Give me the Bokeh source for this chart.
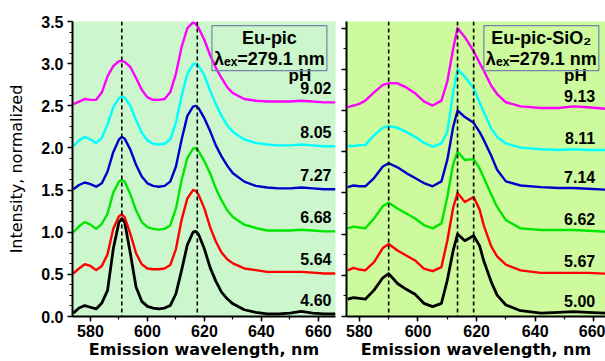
from bokeh.plotting import figure
from bokeh.layouts import row
from bokeh.models import (Span, Label, SingleIntervalTicker, PrintfTickFormatter,
                          Range1d, ColumnDataSource)
from bokeh.core.properties import value
from bokeh.embed import file_html
from bokeh.resources import INLINE

# ---------------- data: Eu-pic (left panel) ----------------
wl_left = [574, 576, 578, 580, 582, 584, 586, 588, 590, 591, 592, 594, 596, 598, 600,
           602, 604, 606, 608, 610, 612, 614, 616, 617, 618, 620, 622, 624, 626, 628,
           630, 634, 638, 642, 646, 650, 654, 658, 662, 666]
left_black = [0.04, 0.10, 0.13, 0.11, 0.09, 0.16, 0.31, 0.80, 1.12, 1.16, 1.12, 0.75, 0.35, 0.18, 0.12,
              0.10, 0.09, 0.10, 0.13, 0.27, 0.55, 0.85, 1.00, 1.01, 0.97, 0.80, 0.58, 0.42, 0.29, 0.21,
              0.15, 0.08, 0.05, 0.03, 0.03, 0.04, 0.06, 0.04, 0.03, 0.03]
left_red = [0.51, 0.57, 0.62, 0.60, 0.55, 0.60, 0.74, 1.04, 1.19, 1.21, 1.18, 0.98, 0.75, 0.62, 0.57,
            0.56, 0.56, 0.57, 0.61, 0.80, 1.15, 1.40, 1.50, 1.49, 1.44, 1.28, 1.06, 0.89, 0.76, 0.68,
            0.63, 0.57, 0.55, 0.53, 0.53, 0.53, 0.53, 0.52, 0.51, 0.51]
left_green = [1.00, 1.07, 1.12, 1.09, 1.04, 1.10, 1.22, 1.47, 1.60, 1.62, 1.60, 1.45, 1.26, 1.12, 1.06,
              1.04, 1.03, 1.04, 1.08, 1.28, 1.62, 1.88, 1.99, 2.00, 1.96, 1.84, 1.70, 1.52, 1.38, 1.26,
              1.18, 1.09, 1.05, 1.02, 1.02, 1.02, 1.03, 1.02, 1.01, 1.01]
left_blue = [1.51, 1.56, 1.59, 1.57, 1.54, 1.58, 1.72, 1.95, 2.10, 2.13, 2.11, 1.98, 1.80, 1.66, 1.58,
             1.55, 1.54, 1.55, 1.60, 1.78, 2.10, 2.38, 2.49, 2.50, 2.47, 2.35, 2.20, 2.03, 1.90, 1.79,
             1.70, 1.60, 1.55, 1.53, 1.52, 1.52, 1.53, 1.52, 1.51, 1.51]
left_cyan = [2.02, 2.09, 2.13, 2.10, 2.06, 2.12, 2.28, 2.48, 2.59, 2.61, 2.60, 2.50, 2.33, 2.18, 2.09,
             2.05, 2.04, 2.05, 2.10, 2.30, 2.62, 2.88, 2.99, 3.00, 2.97, 2.86, 2.68, 2.52, 2.38, 2.27,
             2.19, 2.10, 2.06, 2.04, 2.03, 2.03, 2.04, 2.03, 2.02, 2.02]
left_magenta = [2.52, 2.55, 2.58, 2.57, 2.57, 2.66, 2.85, 2.97, 3.03, 3.03, 3.02, 2.96, 2.83, 2.69, 2.60,
                2.57, 2.57, 2.58, 2.66, 2.88, 3.20, 3.42, 3.49, 3.47, 3.42, 3.28, 3.10, 2.95, 2.83, 2.72,
                2.65, 2.58, 2.56, 2.55, 2.55, 2.55, 2.56, 2.55, 2.54, 2.54]
ph_left = ["4.60", "5.64", "6.68", "7.27", "8.05", "9.02"]
peaks_left = [591, 617.5]

# ---------------- data: Eu-pic-SiO2 (right panel) ----------------
wl_right = [576, 578, 580, 582, 585, 588, 590, 593, 596, 599, 602, 605, 608, 610, 612, 613.5,
            616, 619, 621, 622.5, 625, 627, 630, 635, 642, 648, 653, 658, 664]
right_black = [0.21, 0.23, 0.22, 0.21, 0.32, 0.47, 0.52, 0.40, 0.33, 0.27, 0.16, 0.12, 0.16, 0.44, 0.80, 1.00,
               0.92, 0.98, 0.86, 0.67, 0.42, 0.26, 0.14, 0.07, 0.04, 0.05, 0.06, 0.05, 0.04]
right_red = [0.56, 0.59, 0.57, 0.56, 0.66, 0.83, 0.88, 0.80, 0.74, 0.68, 0.58, 0.55, 0.60, 0.92, 1.32, 1.50,
             1.39, 1.45, 1.30, 1.10, 0.85, 0.73, 0.63, 0.56, 0.53, 0.53, 0.53, 0.53, 0.52]
right_green = [1.07, 1.09, 1.08, 1.07, 1.19, 1.34, 1.38, 1.31, 1.25, 1.19, 1.11, 1.07, 1.13, 1.45, 1.85, 2.00,
               1.90, 1.91, 1.80, 1.68, 1.48, 1.33, 1.17, 1.07, 1.05, 1.05, 1.05, 1.04, 1.03]
right_blue = [1.57, 1.59, 1.58, 1.58, 1.68, 1.82, 1.86, 1.81, 1.74, 1.68, 1.62, 1.58, 1.64, 1.90, 2.30, 2.50,
              2.42, 2.35, 2.24, 2.14, 1.95, 1.78, 1.64, 1.59, 1.57, 1.56, 1.56, 1.55, 1.54]
right_cyan = [2.07, 2.07, 2.08, 2.08, 2.20, 2.29, 2.31, 2.29, 2.24, 2.18, 2.11, 2.06, 2.10, 2.24, 2.72, 3.00,
              2.91, 2.77, 2.60, 2.48, 2.28, 2.18, 2.10, 2.05, 2.03, 2.02, 2.03, 2.02, 2.02]
right_magenta = [2.54, 2.56, 2.58, 2.62, 2.72, 2.81, 2.83, 2.83, 2.78, 2.71, 2.61, 2.56, 2.62, 2.85, 3.25, 3.50,
                 3.39, 3.22, 3.08, 2.98, 2.80, 2.70, 2.60, 2.55, 2.53, 2.53, 2.55, 2.54, 2.52]
ph_right = ["5.00", "5.67", "6.62", "7.14", "8.11", "9.13"]
peaks_right = [590, 613.5, 619]

colors = ["#000000", "#ff0000", "#00e600", "#0000cc", "#00ffff", "#ff00ff"]
widths = [2.8, 2.4, 2.4, 2.4, 2.4, 2.4]

TICK_FONT = "Liberation Sans"
LABEL_FONT = "DejaVu Sans"
HEIGHT = 361


def style(p, show_ylabels, minor_y):
    p.outline_line_color = None
    p.grid.visible = False
    p.xaxis.ticker = SingleIntervalTicker(interval=20, num_minor_ticks=2)
    p.yaxis.ticker = SingleIntervalTicker(interval=0.5, num_minor_ticks=minor_y)
    for ax in (p.xaxis[0], p.yaxis[0]):
        ax.axis_line_width = 2
        ax.axis_line_color = "black"
        ax.major_tick_in = 0
        ax.major_tick_out = 5
        ax.minor_tick_in = 0
        ax.minor_tick_out = 3
        ax.major_tick_line_width = 1.5
        ax.minor_tick_line_width = 1.2
        ax.major_label_text_font = TICK_FONT
        ax.major_label_text_font_style = "bold"
        ax.major_label_text_font_size = "16px"
        ax.major_label_text_color = "black"
        ax.axis_label_text_color = "black"
    p.xaxis.major_label_standoff = 3
    p.xaxis.axis_label = "Emission wavelength, nm"
    p.xaxis.axis_label_text_font = LABEL_FONT
    p.xaxis.axis_label_text_font_style = "bold"
    p.xaxis.axis_label_text_font_size = "16px"
    p.xaxis.axis_label_standoff = 0
    if show_ylabels:
        p.yaxis.formatter = PrintfTickFormatter(format="%.1f")
        p.yaxis.major_label_standoff = 4
        p.yaxis.axis_label = "Intensity, normalized"
        p.yaxis.axis_label_text_font = LABEL_FONT
        p.yaxis.axis_label_text_font_style = "normal"
        p.yaxis.axis_label_text_font_size = "16px"
        p.yaxis.axis_label_standoff = 12
    else:
        p.yaxis.formatter = PrintfTickFormatter(format="")
        p.yaxis.major_label_standoff = 0


def panel(wl, series, ph, peaks, xr, yr, bg, width, border_left, border_right,
          show_ylabels, minor_y, label_dx, label_dy, box_text, box_x, box_y, ph_x, ph_y):
    p = figure(width=width, height=HEIGHT, x_range=Range1d(*xr), y_range=Range1d(*yr),
               output_backend="svg", toolbar_location=None,
               min_border_left=border_left, min_border_right=border_right,
               min_border_top=21, min_border_bottom=45)
    p.background_fill_color = bg
    p.border_fill_color = "white"
    style(p, show_ylabels, minor_y)
    for pk in peaks:
        p.add_layout(Span(location=pk, dimension="height", line_color="black",
                          line_dash="4 3", line_width=1.6))
    for vals, c, w in zip(series, colors, widths):
        p.line(wl, vals, line_color=c, line_width=w, line_join="round")
    src = ColumnDataSource(dict(
        x=[label_dx] * len(ph),
        y=[s[-1] + label_dy for s in series],
        t=ph))
    p.text("x", "y", text="t", source=src, text_align="right", text_baseline="middle",
           text_font=value(TICK_FONT), text_font_style="bold", text_font_size="16px",
           text_color="black")
    p.add_layout(Label(x=ph_x, y=ph_y, text="pH", text_align="center", text_baseline="middle",
                       text_font=TICK_FONT, text_font_style="bold", text_font_size="17px",
                       text_color="black"))
    p.add_layout(Label(x=box_x, y=box_y, text=box_text, text_align="center", text_baseline="top",
                       text_font=TICK_FONT, text_font_style="bold", text_font_size="18px",
                       text_color="black", text_line_height=1.05,
                       border_line_color="#7383ad", border_line_width=1.2,
                       background_fill_color=None, padding=2))
    return p


p1 = panel(wl_left, [left_black, left_red, left_green, left_blue, left_cyan, left_magenta],
           ph_left, peaks_left, (573.7, 666.0), (0.0, 3.5), "#ccf7cc", 340, 72, 5,
           True, 4, 664.6, 0.17, "Eu-pic\nλₑₓ=279.1 nm", 642.8, 3.45, 653.5, 2.86)
p2 = panel(wl_right, [right_black, right_red, right_green, right_blue, right_cyan, right_magenta],
           ph_right, peaks_right, (575.6, 664.0), (0.0, 3.58), "#ccfa9c", 265, 6, 0,
           False, 2, 660.5, 0.15, "Eu-pic-SiO₂\nλₑₓ=279.1 nm", 642.1, 3.53, 653.7, 2.93)

layout = row(p1, p2)
open("out.html", "w").write(file_html(layout, INLINE))
